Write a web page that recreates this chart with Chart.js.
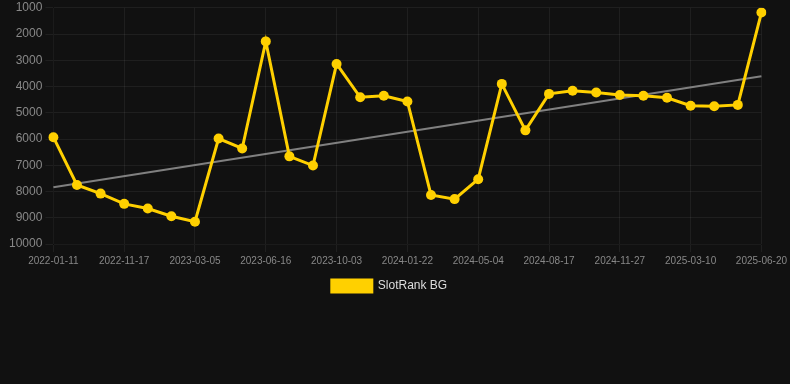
<!DOCTYPE html>
<html>
<head>
<meta charset="utf-8">
<script src="https://cdn.jsdelivr.net/npm/chart.js@4"></script>
<style>
  body { margin: 0; background: #111111; }
  #wrap { width: 790px; height: 302px; position: relative; }
</style>
</head>
<body>
<div id="wrap"><canvas id="myChart"></canvas></div>
<script>
const dates = [
    '2022-01-11', '2022-09-10', '2022-10-14', '2022-11-17', '2022-12-23', '2023-01-28',
    '2023-03-05', '2023-04-08', '2023-05-12', '2023-06-16', '2023-07-22', '2023-08-27',
    '2023-10-03', '2023-11-08', '2023-12-16', '2024-01-22', '2024-02-26', '2024-03-31',
    '2024-05-04', '2024-06-08', '2024-07-13', '2024-08-17', '2024-09-20', '2024-10-24',
    '2024-11-27', '2024-12-31', '2025-02-04', '2025-03-10', '2025-04-13', '2025-05-17',
    '2025-06-20'
]
const ranks = [
    5930, 7750, 8080, 8470, 8650, 8940,
    9150, 5980, 6360, 2280, 6660, 7010,
    3140, 4410, 4350, 4570, 8130, 8290,
    7530, 3900, 5670, 4280, 4160, 4230,
    4320, 4350, 4430, 4730, 4750, 4700,
    1180
]
// trend line end points
const trendStart = 7840
const trendEnd = 3610
const yTicks = [1000, 2000, 3000, 4000, 5000, 6000, 7000, 8000, 9000, 10000]

const data = {
    labels: dates,
    datasets: [{
        label: 'SlotRank BG',
        data: ranks,
        borderColor: '#FFD000',
        backgroundColor: '#FFD000',
        borderWidth: 3,
        pointRadius: 5,
        pointBackgroundColor: '#FFD000',
        pointBorderWidth: 0,
        tension: 0
    }, {
        label: 'trend',
        data: [{ x: dates[0], y: trendStart }, { x: dates[dates.length - 1], y: trendEnd }],
        borderColor: '#808080',
        borderWidth: 2,
        pointRadius: 0
    }]
}

const config = {
    type: 'line',
    data,
    options: {
        responsive: true,
        maintainAspectRatio: false,
        animation: false,
        layout: { padding: { left: 6, right: 17, top: 0 } },
        plugins: {
            legend: {
                position: 'bottom',
                labels: {
                    color: '#dddddd',
                    font: { size: 12, family: 'Liberation Sans, Arial' },
                    boxWidth: 40,
                    boxHeight: 12,
                    filter: item => item.text !== 'trend'
                }
            },
            tooltip: { enabled: false }
        },
        scales: {
            x: {
                grid: {
                    color: ctx => ctx.index % 3 === 0 ? 'rgba(255,255,255,0.06)' : 'transparent'
                },
                ticks: {
                    color: '#888888',
                    font: { size: 10, family: 'Liberation Sans, Arial' },
                    autoSkip: false,
                    maxRotation: 0,
                    callback: function (value, index) {
                        return index % 3 === 0 ? this.getLabelForValue(value) : ''
                    }
                }
            },
            y: {
                reverse: true,
                min: 1000,
                max: 10000,
                afterBuildTicks: axis => { axis.ticks = yTicks.map(v => ({ value: v })) },
                grid: { color: 'rgba(255,255,255,0.06)' },
                ticks: {
                    color: '#888888',
                    font: { size: 12, family: 'Liberation Sans, Arial', lineHeight: 0.8 },
                    callback: value => String(value)
                }
            }
        }
    }
}

new Chart(document.getElementById('myChart'), config)
</script>
</body>
</html>
